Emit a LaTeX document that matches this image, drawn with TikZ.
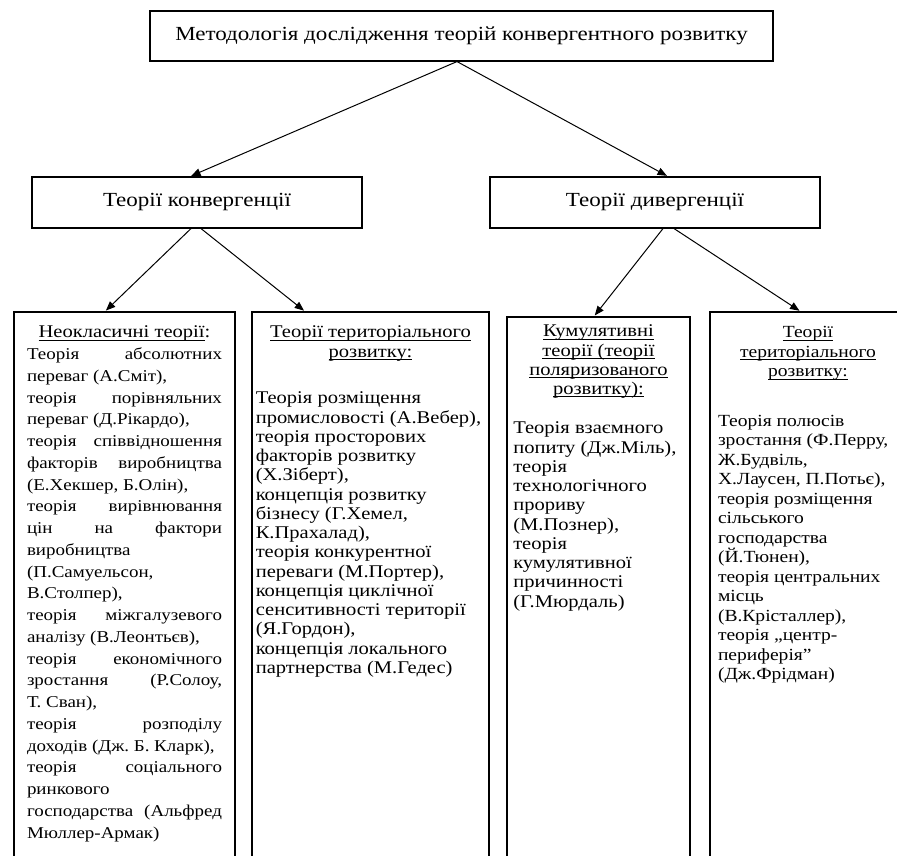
\documentclass[tikz,border=0pt]{standalone}
\usepackage{fontspec}
\setmainfont[FakeStretch=1.15]{Liberation Serif}
\usepackage{tikz}
\usetikzlibrary{arrows.meta,positioning}

\newcommand{\undl}[1]{\leavevmode\setbox0\hbox{#1}\rlap{\rule[-2pt]{\wd0}{0.6pt}}\box0}

\tikzset{
  box/.style={draw, line width=0.9pt, inner sep=0pt, font=\fontsize{16}{19}\selectfont},
  leaf/.style={draw, line width=0.9pt, inner ysep=0pt, font=\fontsize{14.3}{15.4}\selectfont},
  neo/.style={draw, line width=0.9pt, inner ysep=0pt, font=\fontsize{13.2}{17.4}\selectfont}
}

\begin{document}
\begin{tikzpicture}[x=0.8pt,y=-0.8pt,shorten >=1pt,on grid,>={Triangle[length=7.5pt,width=6pt]}]
  \useasboundingbox (0,0) rectangle (897,856);
  \frenchspacing
    \node[box, minimum width=498.4pt, minimum height=40pt] (t_0) at (461.5,36) {Методологія дослідження теорій конвергентного розвитку};
    \node[box, minimum width=264pt, minimum height=40.8pt] (t_1) [below left=133.2pt and 211.6pt of t_0] {Теорії конвергенції};
    \node[box, minimum width=264pt, minimum height=40.8pt] (t_2) [below right=133.2pt and 154.8pt of t_0] {Теорії дивергенції};
    % Neoclassical
    \node[neo, inner xsep=10.4pt] (t_3) [below left=310.8pt and 58pt of t_1] {\parbox[t][446.4pt][t]{156pt}{%
      {\centering\fontsize{14.3}{17.4}\selectfont\rule{0pt}{20.8pt}\undl{Неокласичні теорії}:\par}
      Теорія абсолютних\linebreak переваг (А.Сміт),\par
      теорія порівняльних\linebreak переваг (Д.Рікардо),\par
      теорія співвідношення\linebreak факторів виробництва\linebreak (Е.Хекшер, Б.Олін),\par
      теорія вирівнювання\linebreak цін на фактори\linebreak виробництва\linebreak (П.Самуельсон,\linebreak В.Столпер),\par
      теорія міжгалузевого\linebreak аналізу (В.Леонтьєв),\par
      теорія економічного\linebreak зростання (Р.Солоу,\linebreak Т. Сван),\par
      теорія розподілу\linebreak доходів (Дж. Б. Кларк),\par
      теорія соціального\linebreak ринкового\linebreak господарства (Альфред\linebreak Мюллер-Армак)\par}};
    \node[leaf, inner xsep=3pt] (t_4) [below right=310.8pt and 138.8pt of t_1] {\parbox[t][446.4pt][t]{183.6pt}{%
      {\centering\rule{0pt}{20.8pt}\undl{Теорії територіального}\par\undl{розвитку:}\par}
      \vspace{22pt}\raggedright
      Теорія розміщення\par промисловості (А.Вебер),\par теорія просторових\par факторів розвитку\par (Х.Зіберт),\par
      концепція розвитку\par бізнесу (Г.Хемел,\par К.Прахалад),\par теорія конкурентної\par переваги (М.Портер),\par
      концепція циклічної\par сенситивності території\par (Я.Гордон),\par концепція локального\par партнерства (М.Гедес)\par}};
    % Divergence
    \node[leaf, inner xsep=5pt] (t_5) [below left=312.8pt and 45.2pt of t_2] {\parbox[t][442.4pt][t]{136.4pt}{%
      {\centering\rule{0pt}{16pt}\undl{Кумулятивні}\par\undl{теорії (теорії}\par\undl{поляризованого}\par\undl{розвитку):}\par}
      \vspace{16pt}\raggedright
      Теорія взаємного\par попиту (Дж.Міль),\par теорія\par технологічного\par прориву\par (М.Познер),\par
      теорія\par кумулятивної\par причинності\par (Г.Мюрдаль)\par}};
    \node[leaf, inner xsep=6.4pt, font=\fontsize{13.6}{15.6}\selectfont] (t_6) [below right=310.8pt and 130.4pt of t_2] {\parbox[t][446.4pt][t]{160pt}{%
      {\centering\rightskip=16pt plus 1fil\relax\rule{0pt}{20.8pt}\undl{Теорії}\par\undl{територіального}\par\undl{розвитку:}\par}
      \vspace{24pt}\raggedright
      Теорія полюсів\par зростання (Ф.Перру,\par Ж.Будвіль,\par Х.Лаусен, П.Потьє),\par теорія розміщення\par сільського\par господарства\par (Й.Тюнен),\par
      теорія центральних\par місць\par (В.Крісталлер),\par теорія „центр-\par периферія”\par (Дж.Фрідман)\par}};
      \path[->, line width=0.8pt]
          ([xshift=-3.6pt]t_0.south) edge ([xshift=-5.6pt]t_1.north)
                                     edge ([xshift=10.4pt]t_2.north)
          ([xshift=-4.8pt]t_1.south) edge ([xshift=-15.6pt]t_3.north)
          ([xshift=3.2pt]t_1.south)  edge ([xshift=-52.4pt]t_4.north)
          ([xshift=6.4pt]t_2.south)  edge ([xshift=-3.6pt]t_5.north)
          ([xshift=15.2pt]t_2.south) edge ([xshift=-14pt]t_6.north);
\end{tikzpicture}
\end{document}
